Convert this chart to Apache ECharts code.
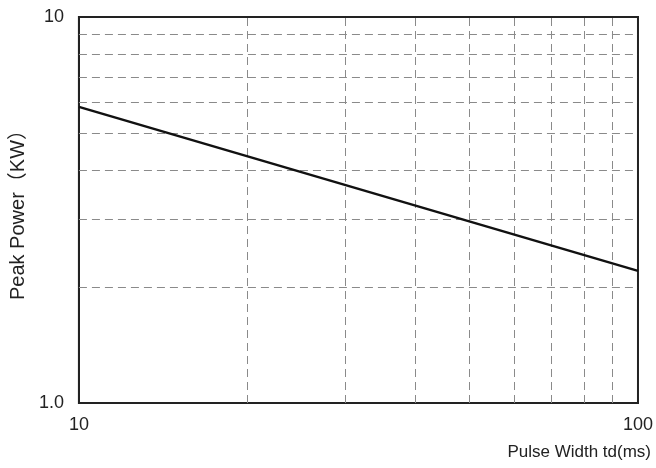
<!DOCTYPE html>
<html>
<head>
<meta charset="utf-8">
<script src="https://cdn.jsdelivr.net/npm/echarts@6/dist/echarts.min.js"></script>
<style>html,body{margin:0;padding:0;background:#fff}#c{width:656px;height:468px}</style>
</head>
<body>
<div id="c"></div>
<script>
const pulseWidth = [10, 100];
const peakPower = [5.85, 2.2];
const xGridValues = [20, 30, 40, 50, 60, 70, 80, 90];
const yGridValues = [2, 3, 4, 5, 6, 7, 8, 9];
const xTicks = [10, 100];
const xTickLabels = ['10', '100'];
const yTicks = [1, 10];
const yTickLabels = ['1.0', '10'];

const FONT = '"Liberation Sans", Arial, "Noto Sans CJK SC", sans-serif';
function lookup(ticks, labels, v) {
  for (let i = 0; i < ticks.length; i++) if (Math.abs(ticks[i] - v) < 1e-6 * ticks[i]) return labels[i];
  return '';
}
const gridLine = { type: [8, 5], color: '#8a8a8a', width: 1 };
const chart = echarts.init(document.getElementById('c'), null, { renderer: 'canvas' });
chart.setOption({
  animation: false,
  backgroundColor: '#fff',
  grid: { left: 77, right: 16, top: 17, bottom: 65, show: true, borderColor: '#222', borderWidth: 2, backgroundColor: 'transparent' },
  xAxis: {
    type: 'log', logBase: 10, min: 10, max: 100,
    axisLine: { show: true, lineStyle: { color: '#222', width: 2 } },
    axisTick: { show: false },
    splitLine: { show: false },
    axisLabel: { color: '#222', fontSize: 18, fontFamily: FONT, margin: 13, formatter: v => lookup(xTicks, xTickLabels, v) },
    name: 'Pulse Width td(ms)',
    nameLocation: 'end',
    nameGap: 13,
    nameTextStyle: { color: '#222', fontSize: 17, fontFamily: FONT, align: 'right', verticalAlign: 'top', padding: [41, 0, 0, 0] }
  },
  yAxis: {
    type: 'log', logBase: 10, min: 1, max: 10,
    axisLine: { show: true, lineStyle: { color: '#222', width: 2 } },
    axisTick: { show: false },
    splitLine: { show: false },
    axisLabel: { color: '#222', fontSize: 18, fontFamily: FONT, margin: 15, formatter: v => lookup(yTicks, yTickLabels, v) },
    name: 'Peak Power（KW）',
    nameLocation: 'middle',
    nameGap: 50,
    nameRotate: 90,
    nameTextStyle: { color: '#222', fontSize: 20, fontFamily: FONT }
  },
  series: [
    {
      type: 'line',
      data: pulseWidth.map((x, i) => [x, peakPower[i]]),
      showSymbol: false,
      lineStyle: { color: '#111', width: 2.5 },
      z: 5,
      markLine: {
        silent: true,
        symbol: ['none', 'none'],
        label: { show: false },
        lineStyle: gridLine,
        data: xGridValues.map(v => ({ xAxis: v })).concat(yGridValues.map(v => ({ yAxis: v })))
      }
    }
  ]
});
</script>
</body>
</html>
